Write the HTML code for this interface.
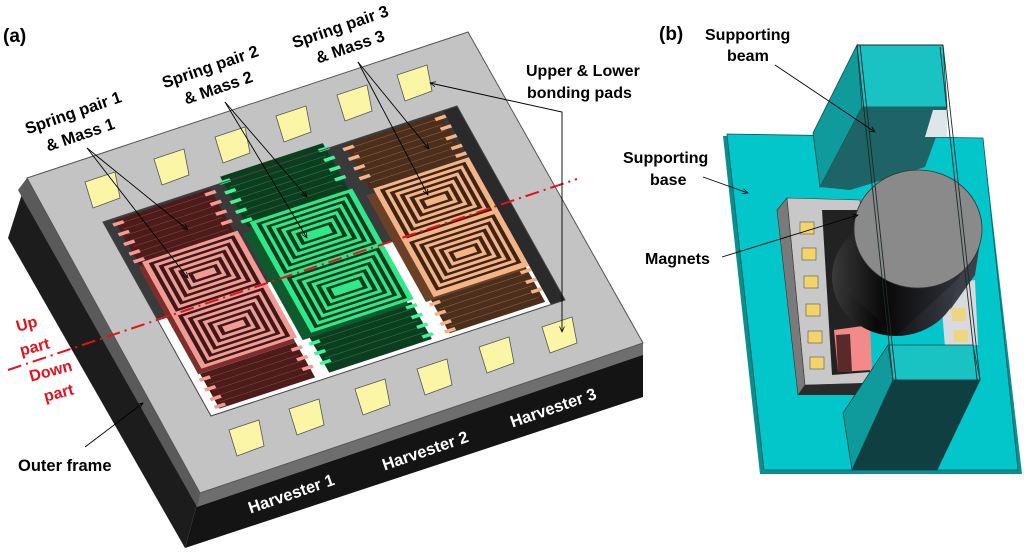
<!DOCTYPE html>
<html><head><meta charset="utf-8"><style>
html,body{margin:0;padding:0;background:#fff;}
svg{display:block;}
text{font-family:"Liberation Sans",sans-serif;font-weight:bold;}
</style></head><body>
<svg width="1024" height="552" viewBox="0 0 1024 552" xmlns="http://www.w3.org/2000/svg">
<defs>
<marker id="ah" viewBox="0 0 10 10" refX="9" refY="5" markerWidth="7" markerHeight="7" orient="auto-start-reverse"><path d="M0,1 L9,5 L0,9" fill="none" stroke="#000" stroke-width="1.2"/></marker>
<linearGradient id="cyl" x1="0" y1="0" x2="1" y2="0"><stop offset="0" stop-color="#3a3a3a"/><stop offset="0.35" stop-color="#080808"/><stop offset="1" stop-color="#3c3e48"/></linearGradient>
</defs>

<!-- ===== (a) block ===== -->
<polygon points="27,178 200,493 185,548 8,238" fill="#1c1c1c"/>
<polygon points="200,493 643,343 643,397 185,548" fill="#141414"/>
<polygon points="27,178 200,493 197,507 18,190" fill="#5a5a5a"/>
<polygon points="200,493 643,343 643,355 197,507" fill="#6e6e6e"/>
<polygon points="27,178 468,32 643,343 200,493" fill="#c3c3c3" stroke="#555" stroke-width="1"/>

<!-- pads -->
<g fill="#fbf6a6" stroke="#555" stroke-width="0.8">
<polygon points="85,182 115,172 120,198 93,208"/>
<polygon points="154,159 184,149 189,175 162,185"/>
<polygon points="215,137 245,127 250,153 223,163"/>
<polygon points="276,116 306,106 311,132 284,142"/>
<polygon points="337,95 367,85 372,111 345,121"/>
<polygon points="397,75 427,65 432,91 405,101"/>
<polygon points="229,430 259,420 264,446 237,456"/>
<polygon points="289,409 319,399 324,425 297,435"/>
<polygon points="355,389 385,379 390,405 363,415"/>
<polygon points="417,369 447,359 452,385 425,395"/>
<polygon points="479,347 509,337 514,363 487,373"/>
<polygon points="542,327 572,317 577,343 550,353"/>
</g>

<!-- cavity with harvesters in local coords -->
<g transform="matrix(3.54,-1.16,1.08,1.94,103,222)">
<rect x="0" y="0" width="100" height="100" fill="#3a3a3a"/>
<polygon points="0,50 100,50 100,100 0,100" fill="#fff"/>
<rect x="96" y="0" width="4" height="100" fill="#2a2a2a"/>

<g>
<rect x="3" y="1" width="27" height="23" fill="#4d1c1a"/>
<rect x="3" y="80" width="27" height="18" fill="#4d1c1a"/>
<path d="M4,3H29M4,6H29M4,9H29M4,12H29M4,15H29M4,18H29M4,21H29M4,83H29M4,86H29M4,89H29M4,92H29M4,95H29" stroke="#8a4a46" stroke-width="0.5" vector-effect="non-scaling-stroke"/>
<g fill="#f39a94">
<rect x="2" y="2" width="3" height="1.6"/><rect x="2" y="7" width="3" height="1.6"/><rect x="2" y="12" width="3" height="1.6"/><rect x="2" y="17" width="3" height="1.6"/><rect x="2" y="21" width="3" height="1.6"/>
<rect x="28" y="2" width="3" height="1.6"/><rect x="28" y="7" width="3" height="1.6"/><rect x="28" y="12" width="3" height="1.6"/><rect x="28" y="17" width="3" height="1.6"/>
<rect x="2" y="82" width="3" height="1.6"/><rect x="2" y="87" width="3" height="1.6"/><rect x="2" y="92" width="3" height="1.6"/><rect x="2" y="96" width="3" height="1.6"/>
<rect x="28" y="82" width="3" height="1.6"/><rect x="28" y="87" width="3" height="1.6"/><rect x="28" y="92" width="3" height="1.6"/>
</g>
<rect x="2.5" y="25" width="27.5" height="55" fill="#7c2e2c"/>
<rect x="4" y="23" width="27" height="55" fill="#f39a94"/>
<g fill="none" stroke="#3a1a18" stroke-width="1.1" vector-effect="non-scaling-stroke">
<rect x="6" y="25" width="23" height="24"/><rect x="8" y="27.5" width="19" height="19"/><rect x="10" y="30" width="15" height="14"/><rect x="12" y="32.5" width="11" height="9"/><rect x="14" y="35" width="7" height="4"/>
<rect x="6" y="52" width="23" height="24"/><rect x="8" y="54.5" width="19" height="19"/><rect x="10" y="57" width="15" height="14"/><rect x="12" y="59.5" width="11" height="9"/><rect x="14" y="62" width="7" height="4"/>
</g>
</g>

<g>
<rect x="34" y="-3" width="29" height="26" fill="#0d3d1f"/>
<rect x="34" y="79" width="29" height="19" fill="#0d3d1f"/>
<path d="M35,0H62M35,3H62M35,6H62M35,9H62M35,12H62M35,15H62M35,18H62M35,21H62M35,82H62M35,85H62M35,88H62M35,91H62M35,94H62" stroke="#2a7a45" stroke-width="0.6" vector-effect="non-scaling-stroke"/>
<g fill="#3ef59a">
<rect x="33" y="-1" width="3" height="1.6"/><rect x="33" y="4" width="3" height="1.6"/><rect x="33" y="9" width="3" height="1.6"/><rect x="33" y="14" width="3" height="1.6"/><rect x="33" y="19" width="3" height="1.6"/>
<rect x="61" y="-1" width="3" height="1.6"/><rect x="61" y="4" width="3" height="1.6"/><rect x="61" y="9" width="3" height="1.6"/><rect x="61" y="14" width="3" height="1.6"/>
<rect x="33" y="82" width="3" height="1.6"/><rect x="33" y="87" width="3" height="1.6"/><rect x="33" y="92" width="3" height="1.6"/>
<rect x="61" y="80" width="3" height="1.6"/><rect x="61" y="85" width="3" height="1.6"/><rect x="61" y="90" width="3" height="1.6"/><rect x="61" y="95" width="3" height="1.6"/>
</g>
<rect x="32" y="25" width="30" height="55" fill="#0f5a2c"/>
<rect x="35" y="21" width="29" height="57" fill="#2fe889"/>
<g fill="none" stroke="#0b3a1c" stroke-width="1.1" vector-effect="non-scaling-stroke">
<rect x="37" y="23" width="25" height="25"/><rect x="39" y="25.5" width="21" height="20"/><rect x="41" y="28" width="17" height="15"/><rect x="43" y="30.5" width="13" height="10"/><rect x="45" y="33" width="9" height="5"/>
<rect x="37" y="51" width="25" height="25"/><rect x="39" y="53.5" width="21" height="20"/><rect x="41" y="56" width="17" height="15"/><rect x="43" y="58.5" width="13" height="10"/><rect x="45" y="61" width="9" height="5"/>
</g>
</g>

<g>
<rect x="68" y="1" width="27" height="23" fill="#4b2e1c"/>
<rect x="68" y="80" width="27" height="18" fill="#4b2e1c"/>
<path d="M69,3H94M69,6H94M69,9H94M69,12H94M69,15H94M69,18H94M69,21H94M69,83H94M69,86H94M69,89H94M69,92H94M69,95H94" stroke="#8a6040" stroke-width="0.6" vector-effect="non-scaling-stroke"/>
<g fill="#f4b487">
<rect x="67" y="2" width="3" height="1.6"/><rect x="67" y="7" width="3" height="1.6"/><rect x="67" y="12" width="3" height="1.6"/><rect x="67" y="17" width="3" height="1.6"/>
<rect x="93" y="2" width="3" height="1.6"/><rect x="93" y="7" width="3" height="1.6"/><rect x="93" y="12" width="3" height="1.6"/><rect x="93" y="17" width="3" height="1.6"/><rect x="93" y="21" width="3" height="1.6"/>
<rect x="67" y="82" width="3" height="1.6"/><rect x="67" y="87" width="3" height="1.6"/><rect x="67" y="92" width="3" height="1.6"/><rect x="67" y="96" width="3" height="1.6"/>
<rect x="93" y="81" width="3" height="1.6"/><rect x="93" y="86" width="3" height="1.6"/><rect x="93" y="91" width="3" height="1.6"/>
</g>
<rect x="66.5" y="26" width="28" height="55" fill="#6b4028"/>
<rect x="69" y="24" width="27" height="56" fill="#f4b487"/>
<g fill="none" stroke="#3d2414" stroke-width="1.1" vector-effect="non-scaling-stroke">
<rect x="71" y="26" width="23" height="24"/><rect x="73" y="28.5" width="19" height="19"/><rect x="75" y="31" width="15" height="14"/><rect x="77" y="33.5" width="11" height="9"/><rect x="79" y="36" width="7" height="4"/>
<rect x="71" y="53" width="23" height="24"/><rect x="73" y="55.5" width="19" height="19"/><rect x="75" y="58" width="15" height="14"/><rect x="77" y="60.5" width="11" height="9"/><rect x="79" y="63" width="7" height="4"/>
</g>
</g>
<rect x="0" y="0" width="100" height="100" fill="none" stroke="#444" stroke-width="1" vector-effect="non-scaling-stroke"/>
</g>

<line x1="8" y1="370" x2="577" y2="179" stroke="#e8101a" stroke-width="2" stroke-dasharray="14,5,2,5"/>

<g stroke="#000" stroke-width="0.9" fill="none">
<line x1="87" y1="148" x2="188" y2="230" marker-end="url(#ah)"/>
<line x1="87" y1="148" x2="188" y2="278" marker-end="url(#ah)"/>
<line x1="225" y1="102" x2="307" y2="197" marker-end="url(#ah)"/>
<line x1="225" y1="102" x2="307" y2="238" marker-end="url(#ah)"/>
<line x1="358" y1="62" x2="429" y2="149" marker-end="url(#ah)"/>
<line x1="358" y1="62" x2="428" y2="195" marker-end="url(#ah)"/>
<polyline points="430,83 562,112 562,332" marker-start="url(#ah)" marker-end="url(#ah)"/>
<line x1="85" y1="447" x2="143" y2="403" marker-end="url(#ah)"/>
</g>

<text x="3" y="42" font-size="19">(a)</text>
<g font-size="16.5" text-anchor="middle">
<text transform="translate(75,118) rotate(-19)">Spring pair 1</text>
<text transform="translate(82,140) rotate(-19)">&amp; Mass 1</text>
<text transform="translate(212,72) rotate(-19)">Spring pair 2</text>
<text transform="translate(220,93) rotate(-19)">&amp; Mass 2</text>
<text transform="translate(342,32) rotate(-19)">Spring pair 3</text>
<text transform="translate(352,52) rotate(-19)">&amp; Mass 3</text>
</g>
<text x="526" y="76" font-size="16">Upper &amp; Lower</text>
<text x="527" y="98" font-size="16">bonding pads</text>
<g fill="#e8101a" font-size="16" text-anchor="middle">
<text transform="translate(28,329) rotate(-15)">Up</text>
<text transform="translate(36,352) rotate(-15)">part</text>
<text transform="translate(52,376) rotate(-15)">Down</text>
<text transform="translate(60,398) rotate(-15)">part</text>
</g>
<text x="18" y="471" font-size="16.5">Outer frame</text>
<g fill="#fff" font-size="16.5" text-anchor="middle">
<text transform="translate(293,499) rotate(-19)">Harvester 1</text>
<text transform="translate(427,456) rotate(-19)">Harvester 2</text>
<text transform="translate(555,413) rotate(-19)">Harvester 3</text>
</g>

<!-- ===== (b) ===== -->
<polygon points="723,136 983,138 1022,474 760,474" fill="#0a8f90"/>
<polygon points="727,134 983,138 1018,470 764,470" fill="#02c6c9" stroke="#0b5a5a" stroke-width="0.8"/>
<polygon points="813,133 857,45 862,107 820,187" fill="#0f9b9b" stroke="#0b4a4a" stroke-width="0.8"/>
<polygon points="857,45 943,45 947,107 862,107" fill="#19c3c3" stroke="#0b4a4a" stroke-width="0.8"/>
<polygon points="862,107 947,107 925,167 850,190 820,187" fill="#1e6466"/>
<polygon points="933,110 947,110 947,137 925,137" fill="#dfe6ea"/>
<polygon points="777,210 787,198 805,385 798,395" fill="#7a7a7a" stroke="#333" stroke-width="0.6"/>
<polygon points="787,198 860,200 872,383 805,385" fill="#c8c8c8" stroke="#333" stroke-width="0.6"/>
<polygon points="798,395 805,385 872,383 875,395" fill="#2a2a2a"/>
<polygon points="822,210 860,210 870,372 832,375" fill="#222"/>
<polygon points="834,330 870,325 872,370 838,372" fill="#f28a8a"/>
<polygon points="836,335 850,334 852,372 838,372" fill="#5a2a2a"/>
<g fill="#f3d46a" stroke="#555" stroke-width="0.6">
<rect x="800" y="222" width="14" height="12"/><rect x="802" y="248" width="14" height="12"/><rect x="804" y="276" width="14" height="12"/><rect x="806" y="304" width="14" height="12"/><rect x="808" y="331" width="14" height="12"/><rect x="810" y="357" width="14" height="12"/>
</g>
<polygon points="940,285 975,280 978,345 945,347" fill="#d8dade"/>
<rect x="952" y="308" width="14" height="13" fill="#f3d46a" opacity="0.8"/>
<rect x="954" y="330" width="14" height="12" fill="#f3d46a" opacity="0.8"/>
<ellipse cx="896" cy="277" rx="64" ry="59" fill="url(#cyl)"/>
<polygon points="832,277 854,229 982,229 960,277 896,336" fill="url(#cyl)"/>
<polygon points="960,277 982,229 975,275 950,310" fill="#3c3e48"/>
<ellipse cx="918" cy="229" rx="64" ry="59" fill="#8a8a8a" stroke="#333" stroke-width="0.8"/>
<polygon points="843,413 888,345 893,380 852,470" fill="#0f9b9b" stroke="#0b4a4a" stroke-width="0.8"/>
<polygon points="888,345 973,345 980,380 893,380" fill="#19c3c3" stroke="#0b4a4a" stroke-width="0.8"/>
<polygon points="893,380 980,380 937,470 852,470" fill="#0f3f40" stroke="#0b4a4a" stroke-width="0.8"/>
<g stroke="#1a2a2a" stroke-width="0.9" fill="none">
<line x1="857" y1="45" x2="893" y2="380"/><line x1="860" y1="45" x2="896" y2="380"/>
<line x1="943" y1="45" x2="980" y2="380"/><line x1="940" y1="47" x2="977" y2="380"/>
<line x1="857" y1="45" x2="943" y2="45"/>
</g>
<g stroke="#000" stroke-width="0.9" fill="none">
<line x1="775" y1="65" x2="875" y2="132" marker-end="url(#ah)"/>
<line x1="703" y1="177" x2="748" y2="193" marker-end="url(#ah)"/>
<line x1="722" y1="257" x2="858" y2="215" marker-end="url(#ah)"/>
</g>
<text x="659" y="40" font-size="19">(b)</text>
<text x="705" y="40" font-size="16">Supporting</text>
<text x="727" y="61" font-size="16">beam</text>
<text x="623" y="163" font-size="16">Supporting</text>
<text x="650" y="185" font-size="16">base</text>
<text x="645" y="264" font-size="16">Magnets</text>
</svg>
</body></html>
